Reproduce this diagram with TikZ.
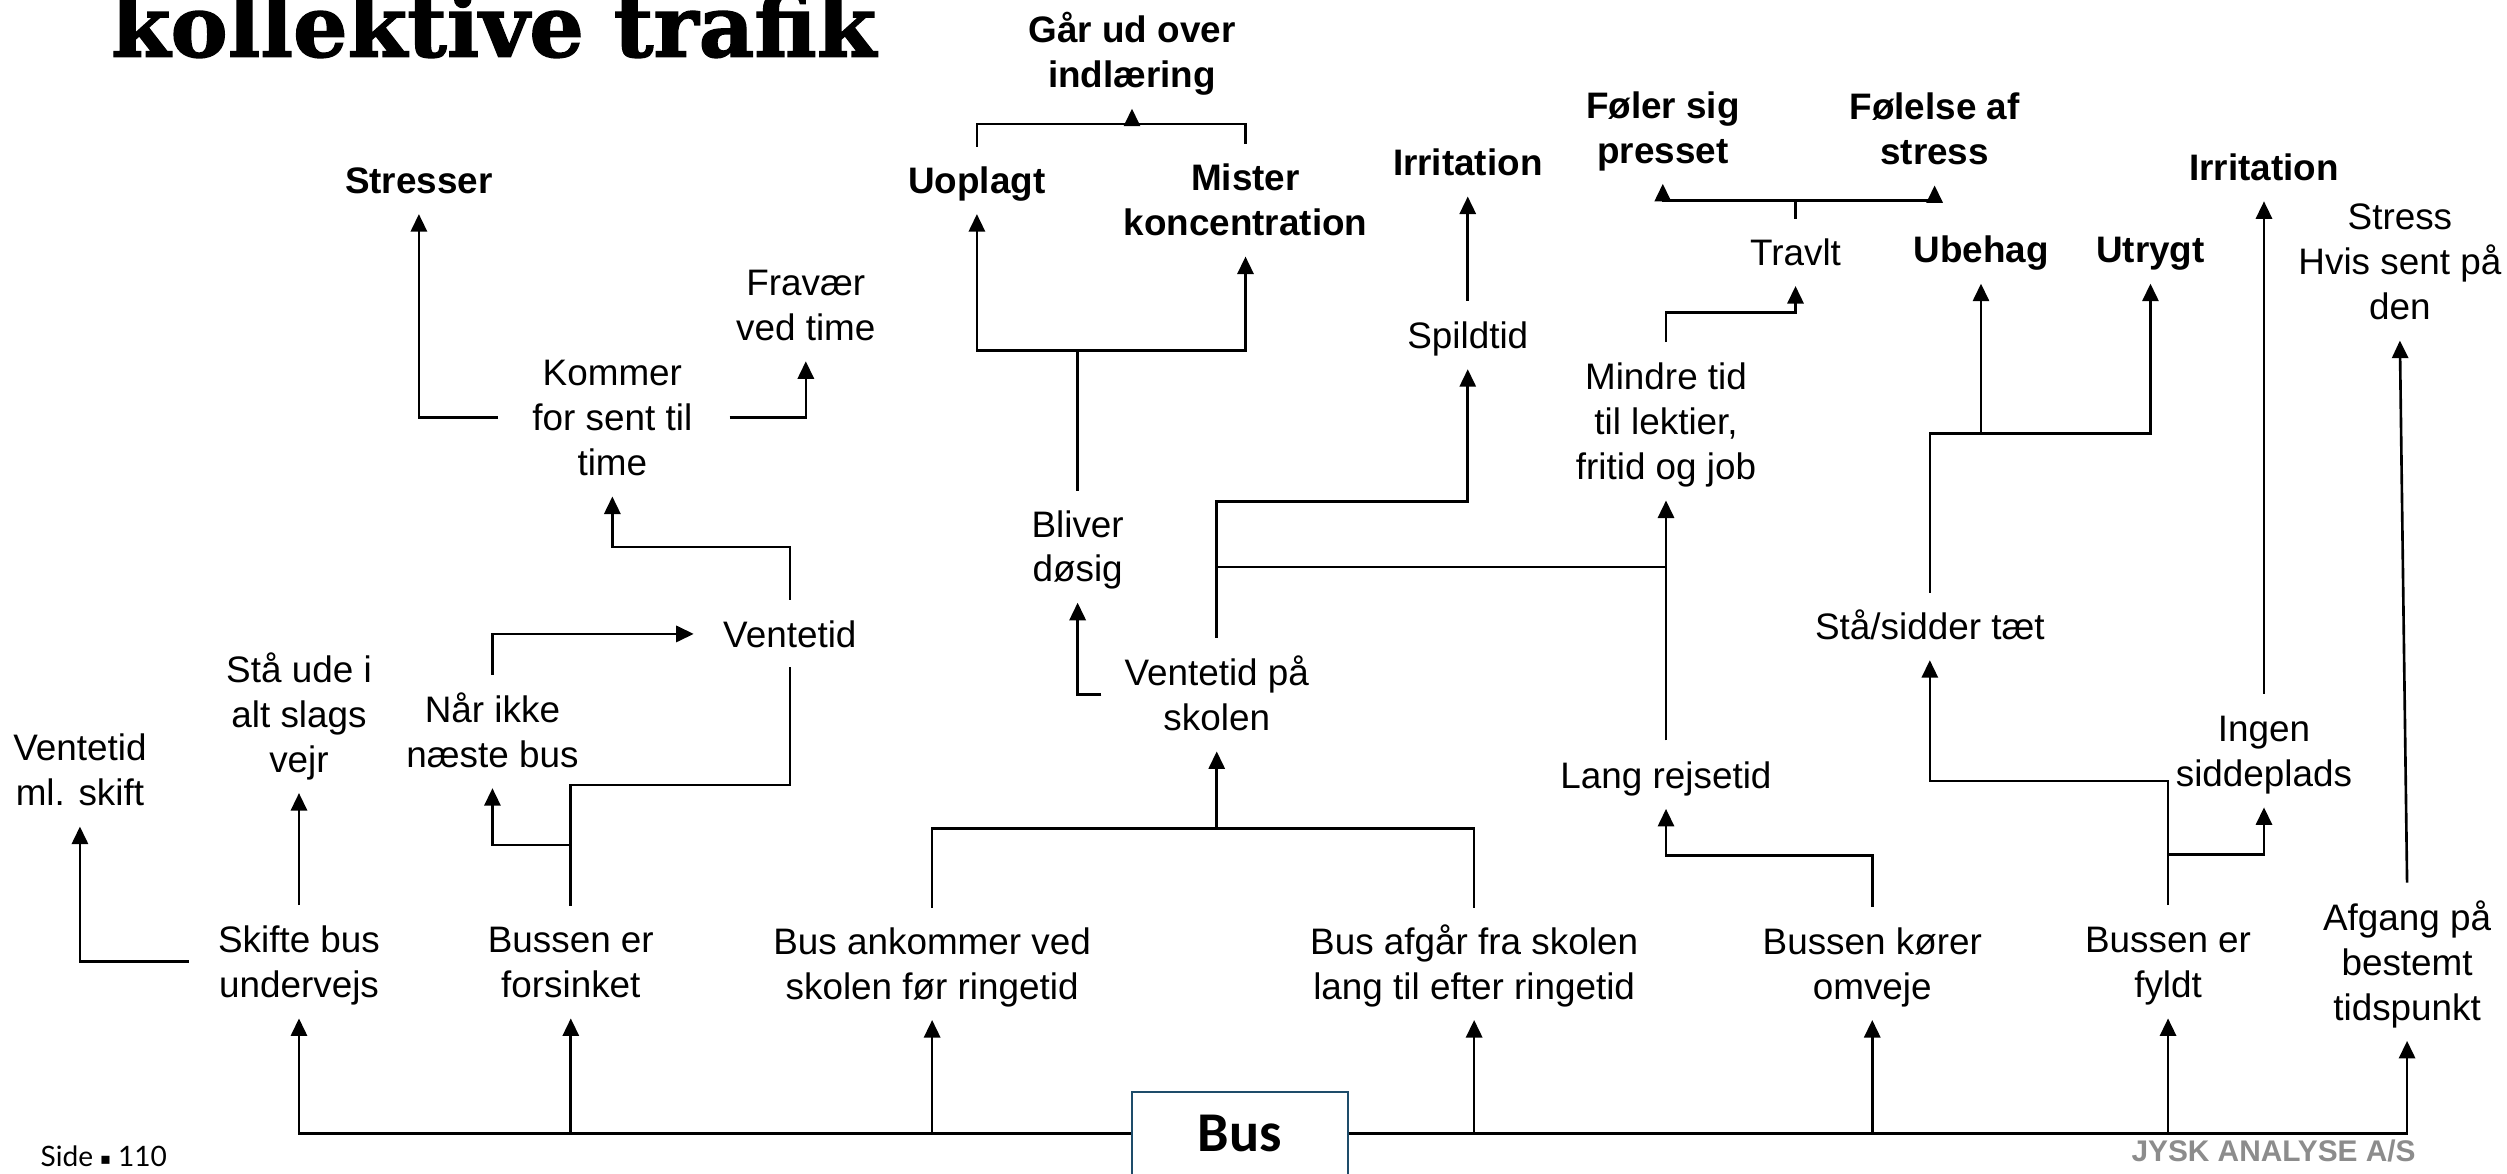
\documentclass[tikz,border=0pt]{standalone}
\usepackage{fontspec}
\usepackage{graphicx}
\setmainfont{Liberation Sans}
\newfontfamily\titlefont[BoldFeatures={FakeBold=1.6}]{DejaVu Serif}
\newfontfamily\busfont{Carlito}
\newfontfamily\footfont{Lato}
\newfontfamily\symfont{DejaVu Sans}
\usetikzlibrary{arrows.meta,calc}
\definecolor{boxblue}{RGB}{30,76,106}
\definecolor{jyskgray}{RGB}{140,140,140}
\newcommand{\tst}{\rule{0pt}{13.4pt}}
\newcommand{\bst}{\rule[-5.7pt]{0pt}{5.7pt}}
\tikzset{
  lbl/.style={inner sep=0pt, align=center, font=\fontsize{10.5}{12.8}\selectfont},
  blbl/.style={inner sep=0pt, align=center, font=\fontsize{10.5}{12.8}\selectfont\bfseries},
  conn/.style={line width=0.75pt, line cap=rect},
  arr/.style={line width=0.75pt, -{Triangle[width=4.6pt,length=5pt]}},
}
\begin{document}
\begin{tikzpicture}[x=0.016cm, y=-0.016cm]
\clip (0,0) rectangle (1568,734);
\useasboundingbox (0,0) rectangle (1568,734);

% title and footer
\node[anchor=base west, inner sep=0pt] (title) at (69,35.5)
  {\resizebox{7.66cm}{!}{\fontsize{24}{28}\titlefont\bfseries kollektive trafik}};
\node[anchor=base west, inner sep=0pt] (side) at (25,729.5)
  {\fontsize{8}{9}\footfont Side\hspace{0.25em}{\symfont\fontsize{4.6}{5}\selectfont\raisebox{0.5pt}{▪}}\hspace{0.25em}110};
\node[anchor=base, inner sep=0pt, text=jyskgray] (jysk) at (1422,726.6)
  {\fontsize{8.5}{10}\selectfont\bfseries JYSK ANALYSE A/S};

% top row
\node[blbl] (gaar) at (708,32.5) {\tst Går ud over\\indlæring\bst};
\node[blbl] (uopl) at (611,112.5) {\tst Uoplagt\bst};
\node[blbl] (mister) at (779,125) {\tst Mister\\koncentration\bst};
\node[blbl] (stresser) at (262,112.5) {\tst Stresser\bst};
\node[blbl] (irr1) at (918,101.5) {\tst Irritation\bst};
\node[blbl] (foeler) at (1040,79.5) {\tst Føler sig\\presset\bst};
\node[blbl] (foelelse) at (1210,80.5) {\tst Følelse af\\stress\bst};
\node[blbl] (ubehag) at (1239,156) {\tst Ubehag\bst};
\node[blbl] (utrygt) at (1345,156) {\tst Utrygt\bst};
\node[blbl] (irr2) at (1416,104.5) {\tst Irritation\bst};

% middle
\node[lbl] (fravaer) at (504,190.5) {\tst Fravær\\ved time\bst};
\node[lbl] (kommer) at (383,261) {\tst Kommer\\for sent til\\time\bst};
\node[lbl] (spild) at (918,209.5) {\tst Spildtid\bst};
\node[lbl] (travlt) at (1123,157.5) {\tst Travlt\bst};
\node[lbl] (stress) at (1501,163.5) {\tst Stress\\Hvis sent på\\den\bst};
\node[lbl] (mindre) at (1042,263.5) {\tst Mindre tid\\til lektier,\\fritid og job\bst};
\node[lbl] (bliver) at (674,341.5) {\tst Bliver\\døsig\bst};
\node[lbl] (ventetid) at (494,396.5) {\tst Ventetid\bst};
\node[lbl] (vskole) at (761,434.5) {\tst Ventetid på\\skolen\bst};
\node[lbl] (staa) at (1207,391.5) {\tst Stå/sidder tæt\bst};
\node[lbl] (lang) at (1042,484.5) {\tst Lang rejsetid\bst};
\node[lbl] (ingen) at (1416,469.5) {\tst Ingen\\siddeplads\bst};
\node[lbl] (vms) at (50,481.5) {\tst Ventetid\\ml. skift\bst};
\node[lbl] (staaude) at (187,446.5) {\tst Stå ude i\\alt slags\\vejr\bst};
\node[lbl] (naar) at (308,457.5) {\tst Når ikke\\næste bus\bst};

% bottom row
\node[lbl] (skifte) at (187,601.5) {\tst Skifte bus\\undervejs\bst};
\node[lbl] (forsinket) at (357,601.5) {\tst Bussen er\\forsinket\bst};
\node[lbl] (ankommer) at (583,602.5) {\tst Bus ankommer ved\\skolen før ringetid\bst};
\node[lbl] (afgaar) at (922,602.5) {\tst Bus afgår fra skolen\\lang til efter ringetid\bst};
\node[lbl] (omveje) at (1171,602.5) {\tst Bussen kører\\omveje\bst};
\node[lbl] (fyldt) at (1356,601.5) {\tst Bussen er\\fyldt\bst};
\node[lbl] (afgang) at (1505.5,601.5) {\tst Afgang på\\bestemt\\tidspunkt\bst};

\node[draw=boxblue, line width=0.5pt, fill=white, minimum width=2.16cm, minimum height=0.832cm, inner sep=0pt]
  (bus) at (775.5,709) {\fontsize{16}{18}\busfont\bfseries Bus};

% bottom distribution line
\draw[arr] (bus.west) -| (skifte.south);
\draw[arr] (bus.east) -| (afgang.south);
\foreach \n in {forsinket,ankommer,afgaar,omveje,fyldt}
  \draw[arr] (bus.west -| \n.south) -- (\n.south);

% left part
\draw[arr] ($(skifte.west)+(-18,0)$) -| (vms.south);
\draw[arr] (skifte.north) -- (staaude.south);
\draw[arr] (forsinket.north) -- ++(0,-37.5) -| (naar.south);
\draw[conn] (forsinket.north) -- ++(0,-75) -| (ventetid.south);
\draw[arr] (naar.north) |- ($(ventetid.west)+(-18,0)$);
\draw[arr] (ventetid.north) -- ++(0,-33) -| (kommer.south);
\draw[arr] ($(kommer.west)+(-21,0)$) -| (stresser.south);
\draw[arr] ($(kommer.east)+(23,0)$) -| (fravaer.south);

% centre part
\draw[conn] (ankommer.north) -- ++(0,-49) coordinate (j1) -| (afgaar.north);
\draw[arr] (j1 -| vskole.south) -- (vskole.south);
\draw[arr] ($(vskole.west)+(-14,0)$) -| (bliver.south);
\draw[conn] (bliver.north) -- ++(0,-87) coordinate (j2);
\draw[arr] (j2) -| (uopl.south);
\draw[arr] (j2) -| (mister.south);
\draw[conn] (uopl.north) -- ++(0,-13.5) coordinate (j3) -| (mister.north);
\draw[arr] (j3 -| gaar.south) -- (gaar.south);
\draw[arr] (vskole.north) -- ++(0,-85.5) -| (spild.south);
\draw[conn] (vskole.north) ++(0,-44.5) coordinate (j4) -- (j4 -| mindre.south);
\draw[arr] (spild.north) -- (irr1.south);

% right part
\draw[arr] (lang.north) -- (mindre.south);
\draw[arr] (omveje.north) -- ++(0,-32) -| (lang.south);
\draw[arr] (mindre.north) -- ++(0,-18.5) -| (travlt.south);
\draw[conn] (travlt.north) -- ++(0,-10.5) coordinate (j6);
\draw[arr] (j6) -| (foeler.south);
\draw[arr] (j6) -| (foelelse.south);
\draw[conn] (staa.north) -- ++(0,-99) coordinate (j5);
\draw[arr] (j5) -| (utrygt.south);
\draw[arr] (j5 -| ubehag.south) -- (ubehag.south);
\draw[arr] (fyldt.north) -- ++(0,-77.5) -| (staa.south);
\draw[arr] (fyldt.north) ++(0,-31.5) -| (ingen.south);
\draw[arr] (ingen.north) -- (irr2.south);
\draw[arr] (afgang.north) -- (stress.south);
\end{tikzpicture}
\end{document}
